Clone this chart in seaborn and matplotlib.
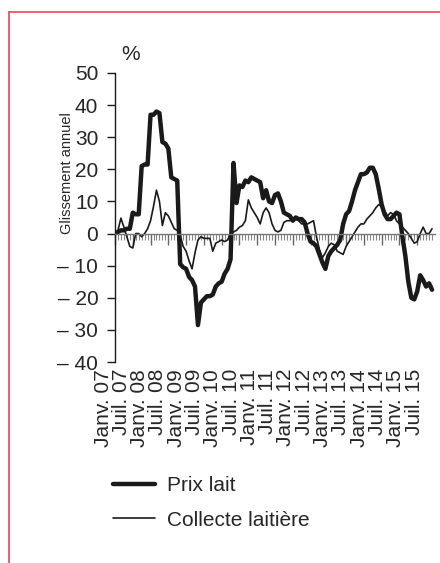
import numpy as np
import pandas as pd
import seaborn as sns
import matplotlib.pyplot as plt
from matplotlib.lines import Line2D

sns.set_style('white')
plt.rcParams['font.family'] = ['Liberation Sans', 'DejaVu Sans']

# monthly data, Jan 2007 - Dec 2015
prix_lait = [
    0, 0.5, 1, 1, 1.5, 1.5, 6.5, 6, 6, 21, 21.5, 21.5,
    37, 37, 38, 37.5, 28.5, 28, 26.5, 17.5, 17, 16.5, -9.5, -10.5,
    -11, -13.5, -14.5, -16.5, -28.5, -21.5, -20.5, -19.5, -19.5, -19, -16.5, -15.5,
    -15, -12.5, -11, -8, 22, 9.5, 15, 14.5, 16.5, 16, 17.5, 17,
    16.5, 16, 11, 13.5, 10, 9.5, 12, 12.5, 10, 6.5, 6, 5.5,
    4, 5, 4.5, 4.5, 3.5, 0, -2.5, -3, -4, -6.5, -9, -11,
    -7, -5.5, -4.5, -3.5, -2, 3, 6, 7, 10, 13.5, 16, 18.5,
    18.5, 19, 20.5, 20.5, 18.5, 14, 9, 6, 4.5, 4.5, 5.5, 6.5,
    6, -1, -7, -15, -20, -20.5, -18, -13, -14.5, -16.5, -15.5, -17.5,
]
collecte = [
    0, 1, 4.8, 2, -1, -4, -4.5, 0, 0, -1, 0, 1.5,
    4, 8.5, 13.5, 10, 2.5, 6.5, 5.5, 3.5, 1.5, 1, -0.5, -4,
    -5.5, -8.5, -11, -6, -2, -1, -1.5, -1.5, -1.5, -5.5, -3, -2.5,
    -2, -2.5, -2, 0, 0.5, 1, 2, 2.5, 4, 10.5, 8, 6.5,
    5, 3, 6.5, 8, 6.5, 3, 1, 0.5, 1, 3.5, 4, 4,
    4.5, 4.5, 4, 3, 3, 3, 3.5, 4, -1, -5, -7.5, -6,
    -4, -3, -3.5, -5.5, -6, -6.5, -4, -2.5, -1, 0.5, 2, 3,
    3, 4.5, 5.5, 6.5, 8, 9, 8.5, 7, 5.5, 6.5, 6, 4,
    3, 2, 1, 0, -1.5, -3, -2.5, 0, 2, 0, 0, 1.5,
]
tick_labels = []
for yy in range(7, 16):
    tick_labels += ['Janv. %02d' % yy, 'Juil. %02d' % yy]

df = pd.DataFrame({'mois': np.arange(len(prix_lait)), 'prix': prix_lait, 'collecte': collecte})

fig = plt.figure(figsize=(4.4, 5.63), dpi=100)
ax = fig.add_axes([115/440, 1 - 362/563, 320/440, 289/563])

sns.lineplot(data=df, x='mois', y='prix', ax=ax, color='#1a1a1a', linewidth=3.2, label='Prix lait')
sns.lineplot(data=df, x='mois', y='collecte', ax=ax, color='#1a1a1a', linewidth=1.2, label='Collecte laitière')

ax.set_xlim(0, 108)
ax.set_ylim(-40, 50)
ax.set_xlabel('')
ax.set_ylabel('')

for s in ['top', 'right']:
    ax.spines[s].set_visible(False)
ax.spines['left'].set_color('#1a1a1a')
ax.spines['left'].set_linewidth(1)
ax.spines['bottom'].set_position(('data', 0))
ax.spines['bottom'].set_color('#777777')
ax.spines['bottom'].set_linewidth(1)

yt = list(range(-40, 51, 10))
ax.set_yticks(yt)
ax.set_yticklabels([('\u2013 %d' % -v) if v < 0 else str(v) for v in yt])
ax.tick_params(axis='y', left=True, direction='out', length=6, width=1, color='#1a1a1a', labelsize=15, pad=6)

ax.set_xticks(np.arange(0, 108, 6))
ax.set_xticks(np.arange(0, 108), minor=True)
ax.tick_params(axis='x', which='major', bottom=True, direction='out', length=8, width=1, color='#666666', labelbottom=False)
ax.tick_params(axis='x', which='minor', bottom=True, direction='out', length=4, width=0.8, color='#888888')

# date labels sit in a strip below the plot, shifted a little left of the ticks
lab = fig.add_axes([103/440, 1 - 362/563, 311/440, 0.0001])
lab.set_xlim(0, len(tick_labels) - 1)
lab.set_xticks(np.arange(len(tick_labels)), tick_labels, rotation=90)
lab.set_yticks([])
lab.tick_params(axis='x', bottom=False, length=0, pad=5, labelsize=15)
for s in lab.spines.values():
    s.set_visible(False)
lab.patch.set_visible(False)

ax.text(0.02, 1.03, '%', transform=ax.transAxes, fontsize=15, va='bottom', ha='left')
fig.text(67/440, 1 - 173/563, 'Glissement annuel', rotation=90, fontsize=10.5, ha='center', va='center')

handles, labels = ax.get_legend_handles_labels()
ax.get_legend().remove()
fig.legend(handles, labels, loc='upper left', bbox_to_anchor=(113/440, 1 - 476/563),
           frameon=False, fontsize=15, handlelength=2.0, handletextpad=0.6,
           labelspacing=0.75, borderpad=0, borderaxespad=0)

# pink frame
fig.add_artist(Line2D([8.5/440, 1.01], [1 - 12/563, 1 - 12/563], transform=fig.transFigure, color='#e8546a', lw=1.3))
fig.add_artist(Line2D([8.5/440, 8.5/440], [1 - 12/563, -0.01], transform=fig.transFigure, color='#e8546a', lw=1.3))

fig.savefig('out.png', dpi=100)
